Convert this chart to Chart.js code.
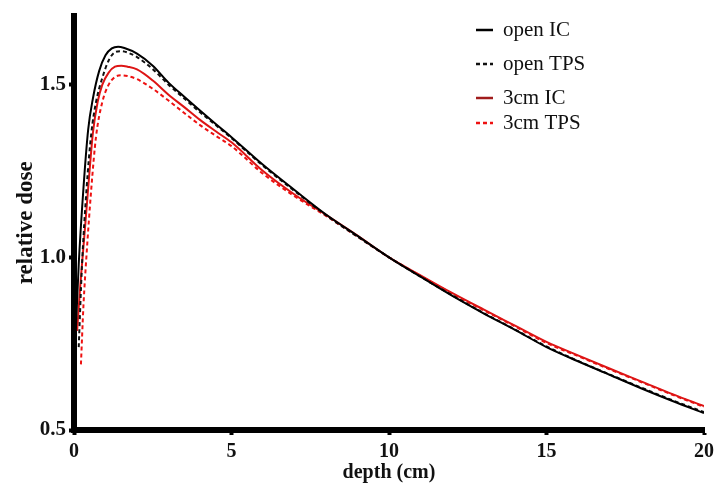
<!DOCTYPE html>
<html>
<head>
<meta charset="utf-8">
<script src="https://cdn.jsdelivr.net/npm/chart.js@4/dist/chart.umd.min.js"></script>
<style>
  html,body{margin:0;padding:0;background:#fff;}
  #wrap{width:719px;height:498px;position:relative;}
</style>
</head>
<body>
<div id="wrap"><canvas id="c" width="719" height="498"></canvas></div>
<script>
// ---- data ----
const depthOpenIC = [0.05,0.15,0.3,0.45,0.6,0.8,1.0,1.2,1.4,1.6,2.0,2.5,3,3.5,4,4.5,5,6,7,8,9,10,11,12,13,14,15,16,17,18,19,20];
const doseOpenIC  = [0.77,0.98,1.2,1.37,1.46,1.54,1.585,1.605,1.61,1.606,1.59,1.555,1.506,1.465,1.425,1.386,1.348,1.268,1.195,1.124,1.062,1.0,0.944,0.889,0.838,0.79,0.74,0.699,0.66,0.621,0.584,0.549];

const depthOpenTPS = [0.15,0.25,0.4,0.55,0.7,0.9,1.1,1.3,1.5,1.7,2.0,2.5,3,3.5,4,4.5,5,6,7,8,9,10,11,12,13,14,15,16,17,18,19,20];
const doseOpenTPS  = [0.74,0.97,1.2,1.36,1.45,1.52,1.57,1.594,1.597,1.593,1.58,1.545,1.5,1.46,1.42,1.383,1.345,1.265,1.192,1.122,1.06,1.0,0.944,0.89,0.839,0.791,0.742,0.70,0.661,0.623,0.586,0.552];

const depth3cmIC = [0.1,0.2,0.3,0.45,0.6,0.75,0.9,1.1,1.3,1.5,1.7,2.0,2.5,3,3.5,4,4.5,5,6,7,8,9,10,11,12,13,14,15,16,17,18,19,20];
const dose3cmIC  = [0.787,0.92,1.03,1.2,1.36,1.45,1.5,1.535,1.552,1.555,1.552,1.544,1.512,1.471,1.435,1.398,1.365,1.333,1.25,1.182,1.123,1.063,1.0,0.948,0.897,0.849,0.802,0.755,0.716,0.678,0.641,0.604,0.569];

const depth3cmTPS = [0.22,0.3,0.4,0.55,0.7,0.9,1.1,1.3,1.5,1.7,2.0,2.5,3,3.5,4,4.5,5,6,7,8,9,10,11,12,13,14,15,16,17,18,19,20];
const dose3cmTPS  = [0.69,0.86,1.01,1.2,1.35,1.45,1.5,1.522,1.527,1.525,1.516,1.488,1.454,1.418,1.383,1.352,1.322,1.242,1.177,1.12,1.06,1.0,0.946,0.895,0.847,0.80,0.752,0.714,0.676,0.639,0.602,0.567];

const seriesNames = ['open IC','open TPS','3cm IC','3cm TPS'];
const xTicks = [0,5,10,15,20];
const yTicks = [0.5,1.0,1.5];

const pts = (xs, ys) => xs.map((x,i)=>({x:x, y:ys[i]}));

const SERIF = "'Liberation Serif','Times New Roman',serif";

const legendPlugin = {
  id: 'customLegend',
  afterDraw(chart){
    const ctx = chart.ctx;
    const rows = [30, 64, 98, 123];
    ctx.save();
    chart.data.datasets.forEach((ds,i)=>{
      const y = rows[i];
      ctx.beginPath();
      ctx.strokeStyle = ds.legendColor || ds.borderColor;
      ctx.lineWidth = 2.5;
      ctx.setLineDash(ds.borderDash || []);
      ctx.moveTo(476, y);
      ctx.lineTo(493, y);
      ctx.stroke();
      ctx.setLineDash([]);
      ctx.fillStyle = '#111';
      ctx.font = "21px " + SERIF;
      ctx.textBaseline = 'middle';
      ctx.textAlign = 'left';
      ctx.fillText(ds.label, 503, y);
    });
    ctx.restore();
  }
};

new Chart(document.getElementById('c'), {
  type: 'line',
  data: {
    datasets: [
      {label: seriesNames[0], data: pts(depthOpenIC, doseOpenIC), borderColor:'#000', borderWidth:2, pointRadius:0, cubicInterpolationMode:'monotone'},
      {label: seriesNames[1], data: pts(depthOpenTPS, doseOpenTPS), borderColor:'#111', borderWidth:2, borderDash:[4,3], pointRadius:0, cubicInterpolationMode:'monotone'},
      {label: seriesNames[2], data: pts(depth3cmIC, dose3cmIC), borderColor:'#dd1515', legendColor:'#a01c1c', borderWidth:2, pointRadius:0, cubicInterpolationMode:'monotone'},
      {label: seriesNames[3], data: pts(depth3cmTPS, dose3cmTPS), borderColor:'#ee1111', borderWidth:2, borderDash:[4,3], pointRadius:0, cubicInterpolationMode:'monotone'}
    ]
  },
  options: {
    responsive:false,
    animation:false,
    devicePixelRatio:1,
    layout:{padding:{top:12,right:12,left:0,bottom:0}},
    plugins:{legend:{display:false}, tooltip:{enabled:false}},
    scales:{
      x:{
        type:'linear', min:0, max:20,
        afterBuildTicks(s){ s.ticks = xTicks.map(v=>({value:v})); },
        afterFit(s){ s.height = 68; },
        border:{display:true, width:6, color:'#000'},
        grid:{display:true, drawOnChartArea:false, drawTicks:true, tickLength:5, tickWidth:4, tickColor:'#000'},
        ticks:{padding:5, color:'#111', font:{family:SERIF, weight:'bold', size:20}, callback:v=>String(v), maxRotation:0},
        title:{display:true, text:'depth (cm)', color:'#111', font:{family:SERIF, weight:'bold', size:20}, padding:{top:0,bottom:13}}
      },
      y:{
        type:'linear', min:0.5, max:1.7,
        afterBuildTicks(s){ s.ticks = yTicks.map(v=>({value:v})); },
        afterFit(s){ s.width = 74; },
        border:{display:true, width:6, color:'#000'},
        grid:{display:true, drawOnChartArea:false, drawTicks:true, tickLength:5, tickWidth:4, tickColor:'#000'},
        ticks:{padding:3, color:'#111', font:{family:SERIF, weight:'bold', size:21}, callback:v=>Number(v).toFixed(1)},
        title:{display:true, text:'relative dose', color:'#111', font:{family:SERIF, weight:'bold', size:23}, padding:{top:12,bottom:0}}
      }
    }
  },
  plugins:[legendPlugin]
});
</script>
</body>
</html>
